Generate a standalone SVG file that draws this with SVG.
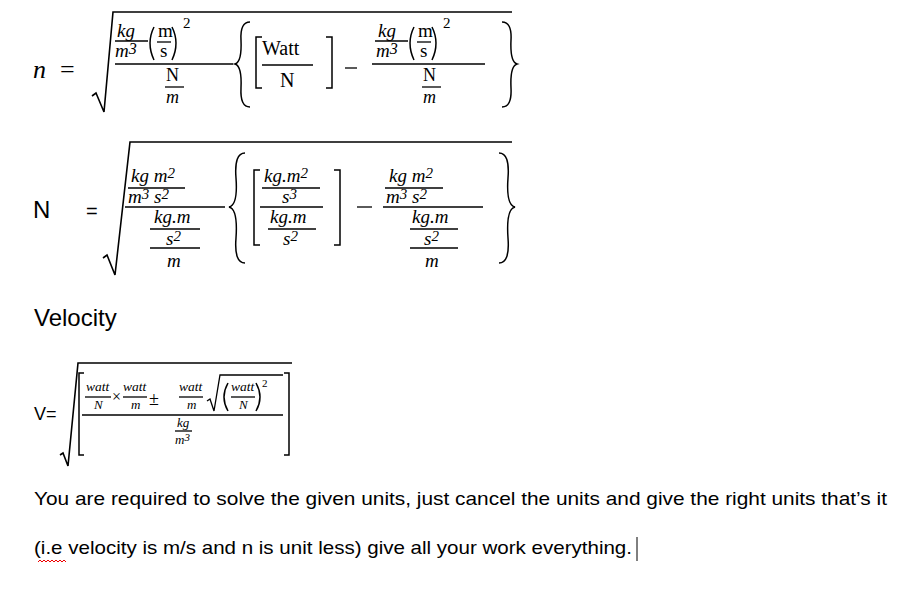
<svg xmlns="http://www.w3.org/2000/svg" width="917" height="596" viewBox="0 0 917 596">
<style>
.m{font-family:"Liberation Serif","DejaVu Serif",serif;font-style:italic;fill:#000}
.u{font-family:"Liberation Serif","DejaVu Serif",serif;fill:#000}
.s{font-family:"Liberation Sans",Arial,sans-serif;fill:#000}
.l{stroke:#000;stroke-width:1.3;fill:none}
.r{stroke:#000;stroke-width:1.6;fill:none}
.b{stroke:#000;stroke-width:1.5;fill:none}
</style>
<rect width="917" height="596" fill="#fff"/>
<!-- Equation 1 -->
<g id="eq1">
<text x="33" y="78" class="m" font-size="26">n</text>
<text x="60" y="78" class="u" font-size="26">=</text>
<path class="r" d="M92,96 L96,93 L104,112 L113,12 L512,12"/>
<text x="117" y="37" class="m" font-size="19">kg</text>
<path class="l" d="M115,41 H148"/>
<text x="115" y="57" class="m" font-size="19">m<tspan class="u" font-size="16" dy="-3">3</tspan></text>
<path class="b" d="M154,27 Q146,43 154,60"/>
<text x="158" y="37" class="u" font-size="19">m</text>
<path class="l" d="M157,42 H171"/>
<text x="160" y="57" class="u" font-size="19">s</text>
<path class="b" d="M172,27 Q180,43 172,60"/>
<text x="183" y="28" class="u" font-size="15">2</text>
<path class="l" d="M115,64 H233"/>
<text x="166" y="81" class="u" font-size="18">N</text>
<path class="l" d="M165,87 H184"/>
<text x="166" y="103" class="m" font-size="18">m</text>
<path class="b" d="M250,22 Q240,22 241,40 Q242,62 235,64 Q242,66 241,88 Q240,107 250,107"/>
<path class="b" d="M262,37 H256 V88 H262"/>
<text x="262" y="55" class="u" font-size="20">Watt</text>
<path class="l" d="M262,65 H313"/>
<text x="280" y="87" class="u" font-size="20">N</text>
<path class="b" d="M326,37 H332 V88 H326"/>
<path class="l" d="M345,68 H357"/>
<text x="378" y="37" class="m" font-size="19">kg</text>
<path class="l" d="M375,41 H408"/>
<text x="376" y="57" class="m" font-size="19">m<tspan class="u" font-size="16" dy="-3">3</tspan></text>
<path class="b" d="M414,27 Q406,43 414,60"/>
<text x="418" y="37" class="u" font-size="19">m</text>
<path class="l" d="M417,42 H431"/>
<text x="420" y="57" class="u" font-size="19">s</text>
<path class="b" d="M432,27 Q440,43 432,60"/>
<text x="443" y="28" class="u" font-size="15">2</text>
<path class="l" d="M372,64 H485"/>
<text x="423" y="81" class="u" font-size="18">N</text>
<path class="l" d="M422,87 H441"/>
<text x="423" y="103" class="m" font-size="18">m</text>
<path class="b" d="M502,22 Q512,22 511,40 Q510,62 517,64 Q510,66 511,88 Q512,107 502,107"/>
</g>
<!-- Equation 2 -->
<g id="eq2">
<text x="33" y="218" class="s" font-size="24">N</text>
<text x="86" y="218" class="s" font-size="20">=</text>
<path class="r" d="M103,258 L107,255 L115,275 L130,142 L512,142"/>
<text x="131" y="182" class="m" font-size="19">kg m<tspan class="u" font-size="15" dy="-4">2</tspan></text>
<path class="l" d="M128,188 H185"/>
<text x="128" y="203" class="m" font-size="19">m<tspan class="u" font-size="15" dy="-4">3</tspan><tspan dy="4"> s</tspan><tspan class="u" font-size="15" dy="-4">2</tspan></text>
<path class="l" d="M125,207 H225"/>
<text x="154" y="223" class="m" font-size="19">kg.m</text>
<path class="l" d="M150,229 H200"/>
<text x="166" y="245" class="m" font-size="19">s<tspan class="u" font-size="15" dy="-4">2</tspan></text>
<path class="l" d="M150,248 H200"/>
<text x="167" y="267" class="m" font-size="19">m</text>
<path class="b" d="M245,153 Q234,153 236,178 Q238,205 229,207 Q238,209 236,238 Q234,263 245,263"/>
<path class="b" d="M260,170 H254 V245 H260"/>
<text x="264" y="182" class="m" font-size="19">kg.m<tspan class="u" font-size="15" dy="-4">2</tspan></text>
<path class="l" d="M262,188 H320"/>
<text x="282" y="203" class="m" font-size="19">s<tspan class="u" font-size="15" dy="-4">3</tspan></text>
<path class="l" d="M260,207 H323"/>
<text x="270" y="223" class="m" font-size="19">kg.m</text>
<path class="l" d="M268,229 H316"/>
<text x="283" y="245" class="m" font-size="19">s<tspan class="u" font-size="15" dy="-4">2</tspan></text>
<path class="b" d="M334,170 H340 V245 H334"/>
<path class="l" d="M357,207 H372"/>
<text x="389" y="182" class="m" font-size="19">kg m<tspan class="u" font-size="15" dy="-4">2</tspan></text>
<path class="l" d="M385,188 H443"/>
<text x="386" y="203" class="m" font-size="19">m<tspan class="u" font-size="15" dy="-4">3</tspan><tspan dy="4"> s</tspan><tspan class="u" font-size="15" dy="-4">2</tspan></text>
<path class="l" d="M383,207 H483"/>
<text x="412" y="223" class="m" font-size="19">kg.m</text>
<path class="l" d="M410,229 H458"/>
<text x="424" y="245" class="m" font-size="19">s<tspan class="u" font-size="15" dy="-4">2</tspan></text>
<path class="l" d="M410,248 H458"/>
<text x="425" y="267" class="m" font-size="19">m</text>
<path class="b" d="M499,153 Q510,153 508,178 Q506,205 515,207 Q506,209 508,238 Q510,263 499,263"/>
</g>
<text x="34" y="326" class="s" font-size="24">Velocity</text>
<!-- Velocity equation -->
<g id="eq3">
<text x="34" y="420" class="s" font-size="18">V=</text>
<path class="r" d="M60,455 L63,453 L68,466 L78,363 L292,363"/>
<path class="b" d="M84,373 H79 V455 H84"/>
<path class="b" d="M284,373 H289 V455 H284"/>
<text x="86" y="391" class="m" font-size="13.5">watt</text>
<path class="l" d="M85,397 H111"/>
<text x="94" y="409" class="m" font-size="13">N</text>
<text x="112" y="402" class="u" font-size="16">×</text>
<text x="123" y="391" class="m" font-size="13.5">watt</text>
<path class="l" d="M123,397 H147"/>
<text x="131" y="409" class="m" font-size="13">m</text>
<text x="149" y="405" class="u" font-size="18">±</text>
<text x="179" y="391" class="m" font-size="13.5">watt</text>
<path class="l" d="M179,397 H203"/>
<text x="187" y="409" class="m" font-size="13">m</text>
<path class="l" d="M207,401 L210,399 L214,411 L220,375 L283,375"/>
<path class="b" d="M228,383 Q220,397 228,411"/>
<text x="231" y="391" class="m" font-size="13.5">watt</text>
<path class="l" d="M231,397 H255"/>
<text x="239" y="409" class="m" font-size="13">N</text>
<path class="b" d="M256,383 Q264,397 256,411"/>
<text x="262" y="387" class="u" font-size="11">2</text>
<path class="l" d="M82,415 H283"/>
<text x="177" y="427" class="m" font-size="13">kg</text>
<path class="l" d="M175,431 H192"/>
<text x="175" y="444" class="m" font-size="13">m<tspan class="u" font-size="11" dy="-3">3</tspan></text>
</g>
<text x="34" y="505" class="s" font-size="19" textLength="853" lengthAdjust="spacingAndGlyphs">You are required to solve the given units, just cancel the units and give the right units that’s it</text>
<text x="34" y="554" class="s" font-size="19" textLength="598" lengthAdjust="spacingAndGlyphs">(i.e velocity is m/s and n is unit less) give all your work everything.</text>
<path d="M637,537 V561" stroke="#000" stroke-width="1"/>
<path d="M38,562 l2,-2 l2,2 l2,-2 l2,2 l2,-2 l2,2 l2,-2 l2,2 l2,-2 l2,2 l2,-2 l2,2 l2,-2 l2,2" stroke="#e00" stroke-width="1" fill="none"/>
</svg>
